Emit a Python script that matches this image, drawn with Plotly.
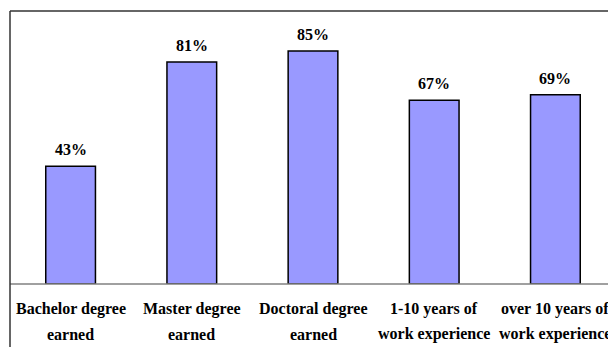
import plotly.graph_objects as go

categories_line1 = ["Bachelor degree", "Master degree", "Doctoral degree", "1-10 years of", "over 10 years of"]
categories_line2 = ["earned", "earned", "earned", "work experience", "work experience"]
values = [43, 81, 85, 67, 69]
value_labels = ["43%", "81%", "85%", "67%", "69%"]

xs = list(range(len(values)))
FONT = "Liberation Serif"

fig = go.Figure()
fig.add_trace(go.Bar(
    x=xs, y=values,
    marker=dict(color="#9999FF", line=dict(color="#000000", width=1.5)),
    width=0.41,
    hoverinfo="skip",
))

annotations = []
for i, (v, t) in enumerate(zip(values, value_labels)):
    annotations.append(dict(x=i, y=v, xref="x", yref="y", text="<b>%s</b>" % t,
                            showarrow=False, yanchor="bottom", yshift=6,
                            font=dict(family=FONT, size=16, color="#000000")))
for i, (l1, l2) in enumerate(zip(categories_line1, categories_line2)):
    annotations.append(dict(x=i, y=0, xref="x", yref="paper", text="<b>%s</b>" % l1,
                            showarrow=False, yanchor="middle", yshift=-25,
                            font=dict(family=FONT, size=16, color="#000000")))
    annotations.append(dict(x=i, y=0, xref="x", yref="paper", text="<b>%s</b>" % l2,
                            showarrow=False, yanchor="middle", yshift=-50,
                            font=dict(family=FONT, size=16, color="#000000")))

fig.update_layout(
    width=608, height=347,
    margin=dict(l=10, r=0, t=11, b=63),
    paper_bgcolor="white", plot_bgcolor="white",
    showlegend=False,
    xaxis=dict(range=[-0.5, -0.5 + 598 / 121.2], showticklabels=False, showgrid=False,
               zeroline=False, showline=False, ticks=""),
    yaxis=dict(range=[0, 99.6], showticklabels=False, showgrid=False,
               zeroline=False, showline=False, ticks=""),
    annotations=annotations,
    shapes=[
        dict(type="line", xref="paper", yref="paper", x0=0, x1=1.05, y0=0, y1=0,
             line=dict(color="#808080", width=1.5)),
        dict(type="line", xref="paper", yref="paper", x0=0, x1=1.05, y0=1, y1=1,
             line=dict(color="#333333", width=1.5)),
        dict(type="line", xref="paper", yref="paper", x0=0, x1=0, y0=-0.5, y1=1,
             line=dict(color="#333333", width=1.5)),
    ],
)

fig.write_html("out.html")
